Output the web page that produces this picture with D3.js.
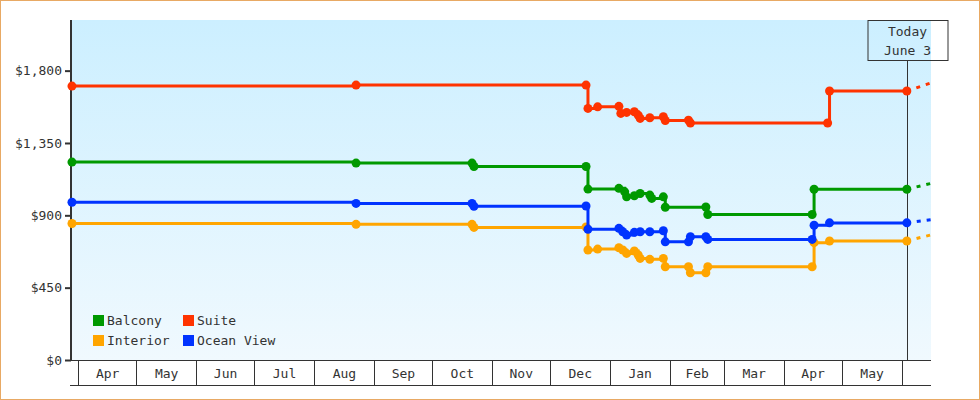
<!DOCTYPE html>
<html>
<head>
<meta charset="utf-8">
<script src="https://cdn.jsdelivr.net/npm/d3@7"></script>
<style>
  body { margin: 0; background: #fff; }
  svg text { font-family: "DejaVu Sans Mono", monospace; font-size: 13px; fill: #333; }
</style>
</head>
<body>
<div id="chart"></div>
<script>
// price observations per cabin type: [date, price]
var balcony = [
  ["2018-03-28", 1231], ["2018-08-22", 1225], ["2018-10-21", 1225], ["2018-10-22", 1204],
  ["2018-12-19", 1204], ["2018-12-20", 1063], ["2019-01-05", 1068], ["2019-01-08", 1046],
  ["2019-01-09", 1015], ["2019-01-13", 1022], ["2019-01-16", 1036], ["2019-01-21", 1026],
  ["2019-01-22", 1005], ["2019-01-28", 1015], ["2019-01-29", 950], ["2019-02-19", 952],
  ["2019-02-20", 905], ["2019-04-15", 905], ["2019-04-16", 1062], ["2019-06-03", 1062]
];
var suite = [
  ["2018-03-28", 1704], ["2018-08-22", 1710], ["2018-12-19", 1710], ["2018-12-20", 1565],
  ["2018-12-25", 1575], ["2019-01-05", 1578], ["2019-01-06", 1534], ["2019-01-09", 1540],
  ["2019-01-13", 1544], ["2019-01-15", 1523], ["2019-01-16", 1503], ["2019-01-21", 1507],
  ["2019-01-28", 1513], ["2019-01-29", 1490], ["2019-02-10", 1492], ["2019-02-11", 1474],
  ["2019-04-23", 1474], ["2019-04-24", 1673], ["2019-06-03", 1673]
];
var interior = [
  ["2018-03-28", 849], ["2018-08-22", 844], ["2018-10-21", 844], ["2018-10-22", 825],
  ["2018-12-19", 827], ["2018-12-20", 684], ["2018-12-25", 690], ["2019-01-05", 698],
  ["2019-01-07", 684], ["2019-01-09", 663], ["2019-01-13", 678], ["2019-01-15", 653],
  ["2019-01-16", 632], ["2019-01-21", 626], ["2019-01-28", 632], ["2019-01-29", 580],
  ["2019-02-10", 580], ["2019-02-11", 543], ["2019-02-19", 543], ["2019-02-20", 580],
  ["2019-04-15", 580], ["2019-04-16", 730], ["2019-04-24", 740], ["2019-06-03", 740]
];
var oceanView = [
  ["2018-03-28", 981], ["2018-08-22", 974], ["2018-10-21", 974], ["2018-10-22", 956],
  ["2018-12-19", 958], ["2018-12-20", 813], ["2019-01-05", 819], ["2019-01-07", 798],
  ["2019-01-09", 777], ["2019-01-13", 794], ["2019-01-16", 798], ["2019-01-21", 798],
  ["2019-01-28", 804], ["2019-01-29", 735], ["2019-02-10", 735], ["2019-02-11", 767],
  ["2019-02-19", 767], ["2019-02-20", 750], ["2019-04-15", 750], ["2019-04-16", 838],
  ["2019-04-24", 853], ["2019-06-03", 853]
];
// projected price at the right edge
var forecastDate = "2019-06-16";
var forecast = { "Balcony": 1100, "Suite": 1726, "Interior": 780, "Ocean View": 874 };

var series = [
  { name: "Balcony", color: "#009900", data: balcony },
  { name: "Suite", color: "#ff3300", data: suite },
  { name: "Interior", color: "#ffa500", data: interior },
  { name: "Ocean View", color: "#0033ff", data: oceanView }
];
var yTicks = [0, 450, 900, 1350, 1800];
var todayStr = "2019-06-03";

var parseDay = d3.utcParse("%Y-%m-%d");
// observations are plotted at midday
function parse(s) { return d3.utcHour.offset(parseDay(s), 12); }

var width = 980, height = 400;
var margin = { top: 20, right: 49, bottom: 40, left: 71 };
var x0 = margin.left, x1 = width - margin.right, y0 = height - margin.bottom, y1 = margin.top;

var start = parseDay("2018-03-28"), end = parseDay(forecastDate), today = parse(todayStr);

var x = d3.scaleUtc().domain([start, end]).range([x0, x1]);
var y = d3.scaleLinear().domain([0, 2115]).range([y0, y1]);

var svg = d3.select("#chart").append("svg").attr("width", width).attr("height", height);

var defs = svg.append("defs");
var grad = defs.append("linearGradient").attr("id", "bg").attr("x1", 0).attr("x2", 0).attr("y1", 0).attr("y2", 1);
grad.append("stop").attr("offset", "0%").attr("stop-color", "#ccefff");
grad.append("stop").attr("offset", "100%").attr("stop-color", "#f0f9fe");
defs.append("clipPath").attr("id", "plotclip").append("rect")
  .attr("x", x0).attr("y", y1).attr("width", x1 - x0).attr("height", y0 - y1);

// outer frame
svg.append("rect").attr("x", 0.5).attr("y", 0.5).attr("width", width - 1).attr("height", height - 1)
  .attr("fill", "#fff").attr("stroke", "#e8a964");

svg.append("rect").attr("x", x0).attr("y", y1).attr("width", x1 - x0).attr("height", y0 - y1)
  .attr("fill", "url(#bg)");

// month boxes under the plot
var months = d3.utcMonth.range(d3.utcMonth.ceil(start), end);
var xg = svg.append("g");
xg.append("line").attr("x1", x0 - 1).attr("x2", x1).attr("y1", y0 + 0.5).attr("y2", y0 + 0.5).attr("stroke", "#333");
xg.append("line").attr("x1", x0 - 1).attr("x2", x1).attr("y1", y0 + 25.5).attr("y2", y0 + 25.5).attr("stroke", "#333");
xg.selectAll(".sep").data(months).enter().append("line")
  .attr("x1", function(d) { return Math.floor(x(d)) + 0.5; })
  .attr("x2", function(d) { return Math.floor(x(d)) + 0.5; })
  .attr("y1", y0).attr("y2", y0 + 25).attr("stroke", "#333");
xg.selectAll(".mlabel").data(months.slice(0, -1)).enter().append("text")
  .attr("x", function(d) { return (x(d) + x(d3.utcMonth.offset(d, 1))) / 2; })
  .attr("y", y0 + 13).attr("dy", "0.35em").attr("text-anchor", "middle")
  .text(d3.utcFormat("%b"));

// y axis
var yAxis = d3.axisLeft(y).tickValues(yTicks).tickSize(6).tickPadding(3)
  .tickFormat(function(d) { return "$" + d3.format(",")(d); });
var yg = svg.append("g").attr("transform", "translate(" + x0 + ",0)").call(yAxis);
yg.select(".domain").remove();
yg.selectAll(".tick line").attr("stroke", "#333").attr("stroke-width", 2);
yg.selectAll(".tick text").attr("font-family", null).attr("font-size", null);
svg.append("line").attr("x1", x0).attr("x2", x0).attr("y1", y1).attr("y2", y0 + 1)
  .attr("stroke", "#333").attr("stroke-width", 2);

// today marker
var tx = Math.round(x(today)) + 0.5;
svg.append("line").attr("x1", tx).attr("x2", tx).attr("y1", y1 + 40).attr("y2", y0).attr("stroke", "#333");
svg.append("rect").attr("x", tx - 39.5).attr("y", y1 + 0.5).attr("width", 80).attr("height", 40)
  .attr("fill", "none").attr("stroke", "#333");
svg.append("text").attr("x", tx).attr("y", y1 + 16).attr("text-anchor", "middle").text("Today");
svg.append("text").attr("x", tx).attr("y", y1 + 35).attr("text-anchor", "middle").text("June 3");

// price lines
var line = d3.line()
  .curve(d3.curveStepAfter)
  .x(function(d) { return x(parse(d[0])); })
  .y(function(d) { return y(d[1]); });

var lines = svg.append("g");
series.forEach(function(s) {
  var last = s.data[s.data.length - 1];
  lines.append("path")
    .datum([last, [forecastDate, forecast[s.name]]])
    .attr("d", d3.line().x(function(d) { return x(parse(d[0])); }).y(function(d) { return y(d[1]); }))
    .attr("clip-path", "url(#plotclip)")
    .attr("fill", "none").attr("stroke", s.color).attr("stroke-width", 3)
    .attr("stroke-dasharray", "4,6");

  lines.append("path").datum(s.data).attr("d", line)
    .attr("fill", "none").attr("stroke", s.color).attr("stroke-width", 3);

  lines.selectAll(null).data(s.data).enter().append("circle")
    .attr("cx", function(d) { return x(parse(d[0])); })
    .attr("cy", function(d) { return y(d[1]); })
    .attr("r", 4.5).attr("fill", s.color);
});

// legend
var legend = svg.append("g");
var legendPos = [[93, 315], [183, 315], [93, 335], [183, 335]];
series.forEach(function(s, i) {
  var p = legendPos[i];
  legend.append("rect").attr("x", p[0]).attr("y", p[1]).attr("width", 11).attr("height", 11).attr("fill", s.color);
  legend.append("text").attr("x", p[0] + 14).attr("y", p[1] + 10).text(s.name);
});
</script>
</body>
</html>
